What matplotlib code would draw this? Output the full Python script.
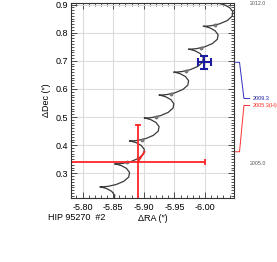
import matplotlib
matplotlib.use('Agg')
import matplotlib.pyplot as plt
import matplotlib.transforms as mtransforms
from matplotlib.ticker import MultipleLocator, FormatStrFormatter

plt.rcParams['font.family'] = ['Liberation Sans', 'DejaVu Sans']
plt.rcParams['axes.unicode_minus'] = True

# model orbit track (RA, Dec offsets in arcsec)
track_ra = [-5.8432, -5.8513, -5.8526, -5.8476, -5.8392, -5.8315,
            -5.8283, -5.8318, -5.8416, -5.8548, -5.8673, -5.8754, -5.8767, -5.8717, -5.8633, -5.8556,
            -5.8524, -5.8559, -5.8657, -5.8789, -5.8914, -5.8995, -5.9008, -5.8958, -5.8874, -5.8797,
            -5.8765, -5.8800, -5.8898, -5.9030, -5.9155, -5.9236, -5.9249, -5.9199, -5.9115, -5.9038,
            -5.9006, -5.9041, -5.9139, -5.9271, -5.9396, -5.9477, -5.9490, -5.9440, -5.9356, -5.9279,
            -5.9247, -5.9282, -5.9380, -5.9512, -5.9637, -5.9718, -5.9731, -5.9681, -5.9597, -5.9520,
            -5.9488, -5.9523, -5.9621, -5.9753, -5.9878, -5.9959, -5.9972, -5.9922, -5.9838, -5.9761,
            -5.9729, -5.9764, -5.9862, -5.9994, -6.0119, -6.0200, -6.0213, -6.0163, -6.0079, -6.0002,
            -5.9970, -6.0005, -6.0103, -6.0235, -6.0360, -6.0441, -6.0454, -6.0404, -6.0320, -6.0243,
            -6.0211, -6.0246, -6.0344, -6.0476]
track_dec = [0.1899, 0.2051, 0.2214, 0.2357, 0.2457, 0.2505,
             0.2516, 0.2516, 0.2536, 0.2600, 0.2715, 0.2867, 0.3030, 0.3173, 0.3273, 0.3321,
             0.3332, 0.3332, 0.3352, 0.3416, 0.3531, 0.3683, 0.3846, 0.3989, 0.4089, 0.4137,
             0.4148, 0.4148, 0.4168, 0.4232, 0.4347, 0.4499, 0.4662, 0.4805, 0.4905, 0.4953,
             0.4964, 0.4964, 0.4984, 0.5048, 0.5163, 0.5315, 0.5478, 0.5621, 0.5721, 0.5769,
             0.5780, 0.5780, 0.5800, 0.5864, 0.5979, 0.6131, 0.6294, 0.6437, 0.6537, 0.6585,
             0.6596, 0.6596, 0.6616, 0.6680, 0.6795, 0.6947, 0.7110, 0.7253, 0.7353, 0.7401,
             0.7412, 0.7412, 0.7432, 0.7496, 0.7611, 0.7763, 0.7926, 0.8069, 0.8169, 0.8217,
             0.8228, 0.8228, 0.8248, 0.8312, 0.8427, 0.8579, 0.8742, 0.8885, 0.8985, 0.9033,
             0.9044, 0.9044, 0.9064, 0.9128]

# yearly epoch marks 2005.0 ... 2011.0
year_ra = [-5.8723, -5.8964, -5.9205, -5.9446, -5.9687, -5.9928, -6.0169]
year_dec = [0.3384, 0.4200, 0.5016, 0.5832, 0.6648, 0.7464, 0.8280]

# measurements
hip_ra, hip_dec = -5.890, 0.3391
hip_era, hip_edec = 0.110, 0.1326
hip_model = (-5.9010, 0.3765)
obs_ra, obs_dec = -5.9989, 0.6947
obs_era, obs_edec = 0.0106, 0.024
obs_model_dec = 0.6947

fig = plt.figure(figsize=(2.77, 2.62), dpi=100)
ax = fig.add_axes([0.2552, 0.2431, 0.5906, 0.7466])

ax.grid(True, which='major', color='#dcdcdc', lw=0.8)
ax.set_axisbelow(True)

ax.plot(track_ra, track_dec, color='#3a3a3a', lw=0.9)
ax.plot(year_ra, year_dec, 'o', ms=2.3, color='#808080', mec='#606060', mew=0.4)

red = '#ff2525'
blue = '#1c1ca0'
ax.plot([hip_ra, hip_model[0]], [hip_dec, hip_model[1]], color=red, lw=1.3)
ax.errorbar(hip_ra, hip_dec, xerr=hip_era, yerr=hip_edec, color=red, lw=1.3,
            capsize=2.4, capthick=1.3)
ax.errorbar(obs_ra, obs_dec, xerr=obs_era, yerr=obs_edec, color=blue, lw=1.5,
            capsize=3.2, capthick=1.5)

ax.set_xlim(-5.7806, -6.0477)
ax.set_ylim(0.211, 0.9065)

ax.xaxis.set_major_locator(MultipleLocator(0.05))
ax.xaxis.set_minor_locator(MultipleLocator(0.01))
ax.yaxis.set_major_locator(MultipleLocator(0.1))
ax.yaxis.set_minor_locator(MultipleLocator(0.01))
ax.xaxis.set_major_formatter(FormatStrFormatter('%.2f'))
ax.yaxis.set_major_formatter(FormatStrFormatter('%.1f'))
ax.tick_params(which='both', direction='in', top=True, right=True, width=0.6, color='#333333')
ax.tick_params(which='major', length=4)
ax.tick_params(which='minor', length=2)
ax.tick_params(axis='x', labelsize=6.5, pad=3.5)
ax.tick_params(axis='y', labelsize=6.5, pad=2)
for s in ax.spines.values():
    s.set_linewidth(0.8)
    s.set_color('#333333')

ax.set_xlabel('ΔRA (″)', fontsize=6.5, labelpad=1)
ax.set_ylabel('ΔDec (″)', fontsize=6.5, labelpad=3)
fig.text(48 / 277, 1 - 217 / 262, 'HIP 95270  #2', fontsize=6.5, va='center', ha='left')

# epoch connectors on the right
tr = mtransforms.blended_transform_factory(ax.transAxes, ax.transData)
ax.plot([1.0, 1.032, 1.059, 1.094], [obs_model_dec, obs_model_dec, 0.566, 0.566],
        color='#3030c0', lw=0.7, transform=tr, clip_on=False)
ax.plot([1.0, 1.032, 1.059, 1.094], [hip_model[1], hip_model[1], 0.541, 0.541],
        color='#ff3030', lw=0.7, transform=tr, clip_on=False)
ax.text(1.11, 0.566, '2009.3', color=blue, fontsize=4, va='center', ha='left', transform=tr)
ax.text(1.11, 0.541, '2005.3(H)', color=red, fontsize=4, va='center', ha='left', transform=tr)
ax.text(1.096, 0.902, '2012.0', color='#555555', fontsize=3.8, va='center', ha='left', transform=tr)
ax.text(1.096, 0.3364, '2005.0', color='#555555', fontsize=3.8, va='center', ha='left', transform=tr)

fig.savefig('out.png', dpi=100)
